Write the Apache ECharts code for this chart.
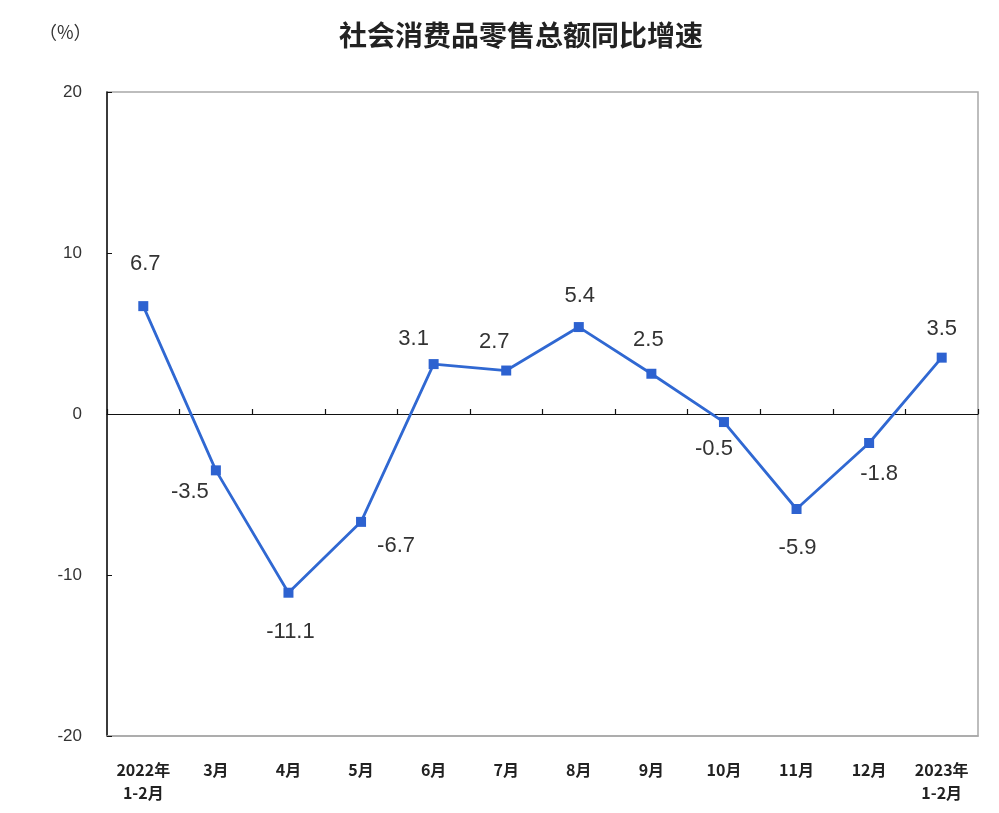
<!DOCTYPE html>
<html>
<head>
<meta charset="utf-8">
<script src="https://cdn.jsdelivr.net/npm/echarts@6/dist/echarts.min.js"></script>
<style>html,body{margin:0;padding:0;background:#fff}#c{width:999px;height:813px}</style>
</head>
<body>
<div id="c"></div>
<script>
const categories = ['2022年\n1-2月','3月','4月','5月','6月','7月','8月','9月','10月','11月','12月','2023年\n1-2月'];
const growth = [6.7, -3.5, -11.1, -6.7, 3.1, 2.7, 5.4, 2.5, -0.5, -5.9, -1.8, 3.5];
const yTicks = [-20, -10, 0, 10, 20];
const labelOffsets = [[2,-42],[-26,22],[2,39],[35,24],[-20,-25],[-12,-29],[1,-31],[-3,-34],[-10,27],[1,39],[10,31],[0,-29]];

const chart = echarts.init(document.getElementById('c'));
chart.setOption({
  animation: false,
  backgroundColor: '#fff',
  title: [
    { text: '社会消费品零售总额同比增速', left: 334, top: 16,
      textStyle: { fontFamily: 'Noto Sans CJK SC', fontSize: 28, fontWeight: 'bold', color: '#222' } },
    { text: '（%）', left: 34, top: 18,
      textStyle: { fontFamily: 'Noto Sans CJK SC', fontSize: 18, fontWeight: 'normal', color: '#333' } }
  ],
  grid: { left: 107, right: 21, top: 92, bottom: 77, show: true, borderColor: '#a8a8a8', borderWidth: 1.5 },
  xAxis: [
    { type: 'category', data: categories, position: 'bottom',
      axisLine: { onZero: false, lineStyle: { color: '#a8a8a8', width: 1.5 } },
      axisTick: { show: false },
      axisLabel: { margin: 22, color: '#222', fontSize: 16, fontWeight: 'bold', fontFamily: 'Noto Sans CJK SC', lineHeight: 23, interval: 0 } },
    { type: 'category', data: categories, position: 'bottom',
      axisLine: { onZero: true, lineStyle: { color: '#111', width: 1.2 } },
      axisTick: { show: true, inside: true, length: 5, lineStyle: { color: '#111', width: 1.2 } },
      axisLabel: { show: false } }
  ],
  yAxis: {
    type: 'value', min: yTicks[0], max: yTicks[yTicks.length-1], interval: 10,
    axisLine: { show: true, lineStyle: { color: '#111', width: 1.5 } },
    axisTick: { show: true, inside: true, length: 5, lineStyle: { color: '#111' } },
    splitLine: { show: false },
    axisLabel: { color: '#333', fontSize: 17, fontFamily: 'Liberation Sans', margin: 25 }
  },
  series: [{
    type: 'line', xAxisIndex: 0,
    data: growth.map((v, i) => ({ value: v, label: { offset: labelOffsets[i] } })),
    symbol: 'rect', symbolSize: 10,
    lineStyle: { color: '#3068d2', width: 2.8 },
    itemStyle: { color: '#2d62d0' },
    label: { show: true, position: 'inside', color: '#333', fontSize: 22, fontFamily: 'Liberation Sans' }
  }]
});
</script>
</body>
</html>
